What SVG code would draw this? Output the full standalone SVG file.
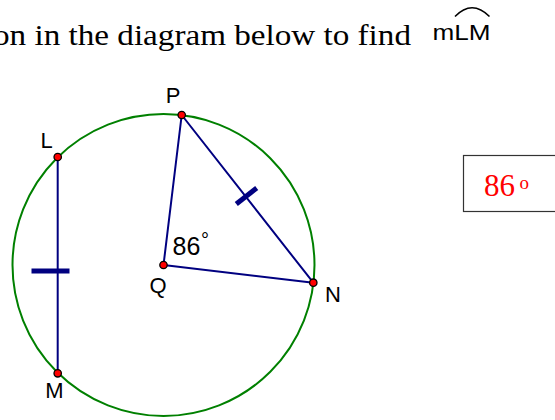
<svg xmlns="http://www.w3.org/2000/svg" width="555" height="420" viewBox="0 0 555 420">
<style>
.ln{stroke:#000080;stroke-width:2;fill:none;stroke-linecap:round}
.tick{stroke:#000080;stroke-width:5;fill:none}
.pt{fill:#ff0000;stroke:#000;stroke-width:1.3}
.lbl{font-family:"Liberation Sans",Arial,sans-serif;fill:#000}
.serif{font-family:"Liberation Serif","Times New Roman",serif}
</style>
<rect width="555" height="420" fill="#fff"/>
<g id="title">
<text class="serif" x="-7" y="45" style="font-size:30px" textLength="418" lengthAdjust="spacingAndGlyphs">on in the diagram below to find</text>
<text class="lbl" x="432.5" y="40" style="font-size:22px" textLength="58" lengthAdjust="spacingAndGlyphs">mLM</text>
<path d="M455,16.5 Q472,-1 489.5,16.5" fill="none" stroke="#000" stroke-width="1.6"/>
</g>
<g id="answer">
<rect x="463.5" y="155.5" width="100" height="56" fill="#fff" stroke="#333" stroke-width="1.2"/>
<text class="serif" x="484" y="196" style="font-size:31px" fill="#ff0000">86</text>
<text class="serif" x="519.5" y="188.5" style="font-size:19px" fill="#ff0000">o</text>
</g>
<g id="circle">
<circle cx="163.5" cy="265" r="151" fill="none" stroke="#008000" stroke-width="2"/>
</g>
<g id="connectors">
<line class="ln" x1="57.7" y1="157" x2="57.7" y2="373.3"/>
<line class="ln" x1="163.5" y1="265" x2="181.7" y2="115"/>
<line class="ln" x1="181.7" y1="115" x2="313.3" y2="282.7"/>
<line class="ln" x1="163.5" y1="265" x2="313.3" y2="282.7"/>
<line class="tick" x1="31.5" y1="271" x2="69.5" y2="271"/>
<line class="tick" x1="236.3" y1="204" x2="256.7" y2="188"/>
</g>
<g id="angle"><text class="lbl" x="172.5" y="254.5" style="font-size:25px">86</text><text class="lbl" x="201" y="247" style="font-size:20px">°</text></g>
<g id="P"><circle class="pt" cx="181.7" cy="115" r="3.7"/><text class="lbl" x="173" y="102.7" text-anchor="middle" style="font-size:22px">P</text></g>
<g id="L"><circle class="pt" cx="57.7" cy="157" r="3.7"/><text class="lbl" x="40.5" y="148.3" style="font-size:22px">L</text></g>
<g id="M"><circle class="pt" cx="57.7" cy="373.3" r="3.7"/><text class="lbl" x="54.5" y="398.3" text-anchor="middle" style="font-size:22px">M</text></g>
<g id="Q"><circle class="pt" cx="163.5" cy="265" r="3.7"/><text class="lbl" x="149.5" y="292.5" style="font-size:22px">Q</text></g>
<g id="N"><circle class="pt" cx="313.3" cy="282.7" r="3.7"/><text class="lbl" x="325" y="301.7" style="font-size:22px">N</text></g>
</svg>
